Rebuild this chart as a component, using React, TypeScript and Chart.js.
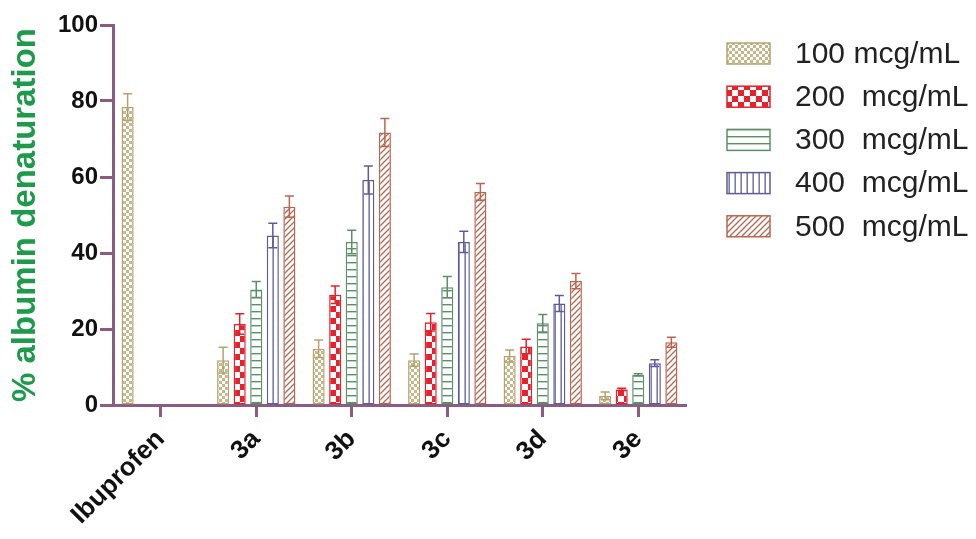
import React, { useEffect, useRef } from 'react';
import { Chart, registerables } from 'chart.js';

Chart.register(...registerables);

const categories = ['Ibuprofen', '3a', '3b', '3c', '3d', '3e'];
const seriesLabels = ['100 mcg/mL', '200  mcg/mL', '300  mcg/mL', '400  mcg/mL', '500  mcg/mL'];

const values100 = [78.4, 11.8, 14.8, 11.8, 12.9, 2.4];
const values200 = [null, 21.3, 29.0, 21.8, 15.4, 4.1];
const values300 = [null, 30.4, 42.9, 31.0, 21.5, 7.9];
const values400 = [null, 44.6, 59.2, 42.9, 26.7, 11.0];
const values500 = [null, 52.2, 71.7, 56.1, 32.6, 16.5];

const errors100 = [3.5, 3.4, 2.3, 1.6, 1.6, 1.0];
const errors200 = [null, 2.7, 2.3, 2.3, 1.9, 0.3];
const errors300 = [null, 2.1, 3.1, 2.8, 2.3, 0.3];
const errors400 = [null, 3.2, 3.7, 2.8, 2.1, 0.9];
const errors500 = [null, 2.8, 3.7, 2.2, 2.0, 1.3];

const yMin = 0;
const yMax = 100;
const yStep = 20;

const AXIS_COLOR = '#8a5c82';
const TITLE_COLOR = '#1d9a4a';
const FONT = "'Liberation Sans', Arial, sans-serif";

const seriesStyles = [
  { kind: 'fineChecker', color: '#b5a36f', fill: '#c6b68a' },
  { kind: 'checker', color: '#e3232c', fill: '#e8222c' },
  { kind: 'hlines', color: '#5b8f66', fill: '#5b8f66' },
  { kind: 'vlines', color: '#5e5c98', fill: '#5e5c98' },
  { kind: 'diag', color: '#b8664f', fill: '#b8664f' },
];

function makePattern(kind: string, color: string): CanvasPattern | string {
  const c = document.createElement('canvas');
  const ctx = c.getContext('2d');
  if (!ctx) return color;
  if (kind === 'fineChecker') {
    c.width = 6; c.height = 6;
    ctx.fillStyle = '#ffffff'; ctx.fillRect(0, 0, 6, 6);
    ctx.fillStyle = color;
    ctx.fillRect(0, 0, 3, 3); ctx.fillRect(3, 3, 3, 3);
  } else if (kind === 'checker') {
    c.width = 12; c.height = 12;
    ctx.fillStyle = '#ffffff'; ctx.fillRect(0, 0, 12, 12);
    ctx.fillStyle = color;
    ctx.fillRect(0, 0, 6, 6); ctx.fillRect(6, 6, 6, 6);
  } else if (kind === 'hlines') {
    c.width = 8; c.height = 7;
    ctx.fillStyle = '#ffffff'; ctx.fillRect(0, 0, 8, 7);
    ctx.fillStyle = color; ctx.fillRect(0, 3, 8, 1.4);
  } else if (kind === 'vlines') {
    c.width = 6; c.height = 8;
    ctx.fillStyle = '#ffffff'; ctx.fillRect(0, 0, 6, 8);
    ctx.fillStyle = color; ctx.fillRect(2.5, 0, 1.3, 8);
  } else {
    const s = 6;
    c.width = s; c.height = s;
    ctx.fillStyle = '#ffffff'; ctx.fillRect(0, 0, s, s);
    ctx.strokeStyle = color; ctx.lineWidth = 1.3;
    ctx.beginPath();
    ctx.moveTo(-1, s + 1); ctx.lineTo(s + 1, -1);
    ctx.moveTo(-1, 1); ctx.lineTo(1, -1);
    ctx.moveTo(s - 1, s + 1); ctx.lineTo(s + 1, s - 1);
    ctx.stroke();
  }
  const p = ctx.createPattern(c, 'repeat');
  return p || color;
}

const errorBarPlugin = {
  id: 'errorBars',
  afterDatasetsDraw(chart: any) {
    const ctx = chart.ctx;
    const yScale = chart.scales.y;
    chart.data.datasets.forEach((ds: any, di: number) => {
      const meta = chart.getDatasetMeta(di);
      if (meta.hidden) return;
      meta.data.forEach((bar: any, i: number) => {
        const v = ds.data[i];
        const e = ds.errors ? ds.errors[i] : null;
        if (v == null || e == null) return;
        const yHi = yScale.getPixelForValue(v + e);
        const yLo = yScale.getPixelForValue(v - e);
        const x = bar.x;
        const cap = 4.5;
        ctx.save();
        ctx.strokeStyle = ds.borderColor;
        ctx.lineWidth = 1.5;
        ctx.beginPath();
        ctx.moveTo(x, yLo); ctx.lineTo(x, yHi);
        ctx.moveTo(x - cap, yHi); ctx.lineTo(x + cap, yHi);
        ctx.moveTo(x - cap, yLo); ctx.lineTo(x + cap, yLo);
        ctx.stroke();
        ctx.restore();
      });
    });
  },
};

const legendPlugin = {
  id: 'patternLegend',
  afterDraw(chart: any) {
    const ctx = chart.ctx;
    const boxX = 727, boxW = 43, boxH = 21, top0 = 43, rowStep = 43.2, textX = 795;
    ctx.save();
    chart.data.datasets.forEach((ds: any, i: number) => {
      const top = top0 + i * rowStep;
      ctx.fillStyle = ds.backgroundColor;
      ctx.fillRect(boxX, top, boxW, boxH);
      ctx.strokeStyle = ds.borderColor;
      ctx.lineWidth = 1.5;
      ctx.strokeRect(boxX, top, boxW, boxH);
      ctx.fillStyle = '#222222';
      ctx.font = `30px ${FONT}`;
      ctx.textBaseline = 'middle';
      ctx.textAlign = 'left';
      ctx.fillText(ds.label, textX, top + boxH / 2 + 1);
    });
    ctx.restore();
  },
};

export default function App() {
  const ref = useRef<HTMLCanvasElement | null>(null);

  useEffect(() => {
    if (!ref.current) return;
    const allValues = [values100, values200, values300, values400, values500];
    const allErrors = [errors100, errors200, errors300, errors400, errors500];
    const datasets = allValues.map((vals, i) => ({
      label: seriesLabels[i],
      data: vals,
      errors: allErrors[i],
      backgroundColor: makePattern(seriesStyles[i].kind, seriesStyles[i].fill),
      borderColor: seriesStyles[i].color,
      borderWidth: 1.5,
      borderSkipped: false,
      categoryPercentage: 0.867,
      barPercentage: 0.73,
    }));

    const chart = new Chart(ref.current, {
      type: 'bar',
      data: { labels: categories, datasets: datasets as any },
      options: {
        animation: false,
        responsive: true,
        maintainAspectRatio: false,
        layout: { padding: { left: 0, right: 290, top: 25, bottom: 0 } },
        plugins: {
          legend: { display: false },
          tooltip: { enabled: false },
        },
        scales: {
          x: {
            z: 1,
            afterFit: (scale: any) => { scale.height = 134; },
            grid: {
              offset: false,
              drawOnChartArea: false,
              drawTicks: true,
              tickLength: 12,
              tickWidth: 3,
              tickColor: AXIS_COLOR,
            },
            border: { display: true, color: AXIS_COLOR, width: 3 },
            ticks: {
              minRotation: 45,
              maxRotation: 45,
              padding: 7,
              color: '#111111',
              font: { family: FONT, size: 26, weight: 'bold' },
            },
          },
          y: {
            z: 1,
            min: yMin,
            max: yMax,
            afterFit: (scale: any) => { scale.width = 113; },
            grid: {
              drawOnChartArea: false,
              drawTicks: true,
              tickLength: 13,
              tickWidth: 3,
              tickColor: AXIS_COLOR,
            },
            border: { display: true, color: AXIS_COLOR, width: 3 },
            ticks: {
              stepSize: yStep,
              padding: 2,
              color: '#111111',
              font: { family: FONT, size: 24, weight: 'bold' },
            },
            title: {
              display: true,
              text: '% albumin denaturation',
              color: TITLE_COLOR,
              padding: { top: 6, bottom: 0 },
              font: { family: FONT, size: 33, weight: 'bold' },
            },
          },
        },
      },
      plugins: [errorBarPlugin, legendPlugin],
    });
    return () => chart.destroy();
  }, []);

  return (
    <div style={{ position: 'absolute', left: 0, top: 0, width: 976, height: 539, background: '#ffffff' }}>
      <canvas ref={ref} />
    </div>
  );
}
